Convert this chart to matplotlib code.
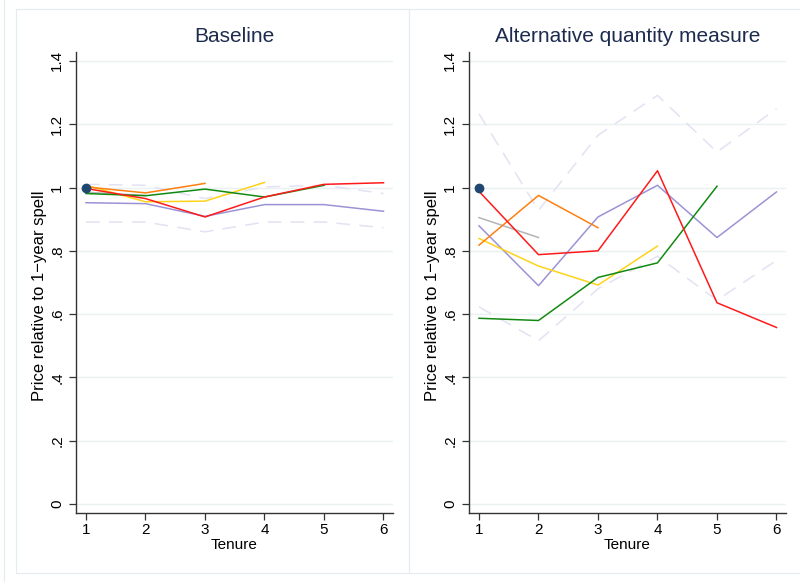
import numpy as np
import matplotlib.pyplot as plt
from matplotlib.patches import Rectangle

plt.rcParams['font.family'] = ['Liberation Sans', 'DejaVu Sans']

tenure = [1, 2, 3, 4, 5, 6]
yticks = [0, 0.2, 0.4, 0.6, 0.8, 1.0, 1.2, 1.4]
ytick_labels = ['0', '.2', '.4', '.6', '.8', '1', '1.2', '1.4']

# Baseline panel
base_red = [0.997, 0.965, 0.907, 0.970, 1.010, 1.015]
base_orange = [1.002, 0.983, 1.013]
base_green = [0.981, 0.974, 0.995, 0.970, 1.007]
base_yellow = [1.007, 0.955, 0.957, 1.016]
base_purple = [0.952, 0.949, 0.909, 0.946, 0.946, 0.925]
base_gray = [0.985, 0.975]
base_hi = [1.010, 1.007, 0.965, 1.002, 1.007, 0.981]
base_lo = [0.891, 0.891, 0.860, 0.891, 0.891, 0.873]

# Alternative quantity measure panel
alt_red = [0.988, 0.788, 0.800, 1.053, 0.636, 0.558]
alt_orange = [0.818, 0.975, 0.873]
alt_green = [0.587, 0.580, 0.716, 0.762, 1.004]
alt_yellow = [0.839, 0.752, 0.692, 0.815]
alt_purple = [0.879, 0.690, 0.907, 1.007, 0.842, 0.986]
alt_gray = [0.905, 0.842]
alt_hi = [1.233, 0.928, 1.165, 1.291, 1.112, 1.249]
alt_lo = [0.623, 0.516, 0.680, 0.783, 0.644, 0.770]

panels = [
    ('Baseline', base_red, base_orange, base_green, base_yellow,
     base_purple, base_gray, base_hi, base_lo),
    ('Alternative quantity measure', alt_red, alt_orange, alt_green, alt_yellow,
     alt_purple, alt_gray, alt_hi, alt_lo),
]

W, H = 800, 582
fig = plt.figure(figsize=(W / 100, H / 100), dpi=100)

frame_col = '#e3ecee'
fig.patches.append(Rectangle((4 / W, -0.05), 1.1, 1.1, transform=fig.transFigure,
                             fill=False, ec=frame_col, lw=0.8))
fig.patches.append(Rectangle((16 / W, 1 - 573 / H), (409 - 16) / W, (573 - 9) / H,
                             transform=fig.transFigure, fill=False, ec=frame_col, lw=0.8))
fig.patches.append(Rectangle((409 / W, 1 - 573 / H), 1.0, (573 - 9) / H,
                             transform=fig.transFigure, fill=False, ec=frame_col, lw=0.8))

lefts = [76, 469]
for left, (title, red, orange, green, yellow, purple, gray, hi, lo) in zip(lefts, panels):
    ax = fig.add_axes([left / W, 1 - 513 / H, 317 / W, (513 - 52) / H])
    ax.set_xlim(0.832, 6.16)
    ax.set_ylim(-0.028, 1.428)

    dash = dict(color='#e2e2f3', lw=1.1, dashes=(9, 6))
    ax.plot(tenure[:len(hi)], hi, **dash)
    ax.plot(tenure[:len(lo)], lo, **dash)
    ax.plot(tenure[:len(gray)], gray, color='#b4b4b4', lw=1.1)
    ax.plot(tenure[:len(purple)], purple, color='#9b93d6', lw=1.1)
    ax.plot(tenure[:len(yellow)], yellow, color='#ffd21a', lw=1.1)
    ax.plot(tenure[:len(green)], green, color='#128a12', lw=1.1)
    ax.plot(tenure[:len(orange)], orange, color='#ff7f10', lw=1.1)
    ax.plot(tenure[:len(red)], red, color='#ff1a1a', lw=1.1)
    ax.plot([1], [1.0], 'o', color='#1f4770', ms=6, zorder=5)

    ax.set_yticks(yticks)
    ax.set_yticklabels(ytick_labels, rotation=90, va='center')
    ax.set_xticks(tenure)
    ax.grid(axis='y', color='#eaf1f2', lw=1.0)
    ax.set_axisbelow(True)
    for s in ['top', 'right']:
        ax.spines[s].set_visible(False)
    for s in ['left', 'bottom']:
        ax.spines[s].set_color('#333333')
        ax.spines[s].set_linewidth(1.0)
    ax.tick_params(labelsize=11, length=5, width=0.9, color='#333333')
    ax.tick_params(axis='x', pad=2)
    ax.set_xlabel('Tenure', fontsize=11, labelpad=1)
    ax.set_ylabel('Price relative to 1\u2212year spell', fontsize=12)
    ax.yaxis.set_label_coords(-0.09, 0.472)
    ax.set_title(title, fontsize=15, color='#1c2b4e', pad=7)

fig.savefig('out.png', dpi=100)
